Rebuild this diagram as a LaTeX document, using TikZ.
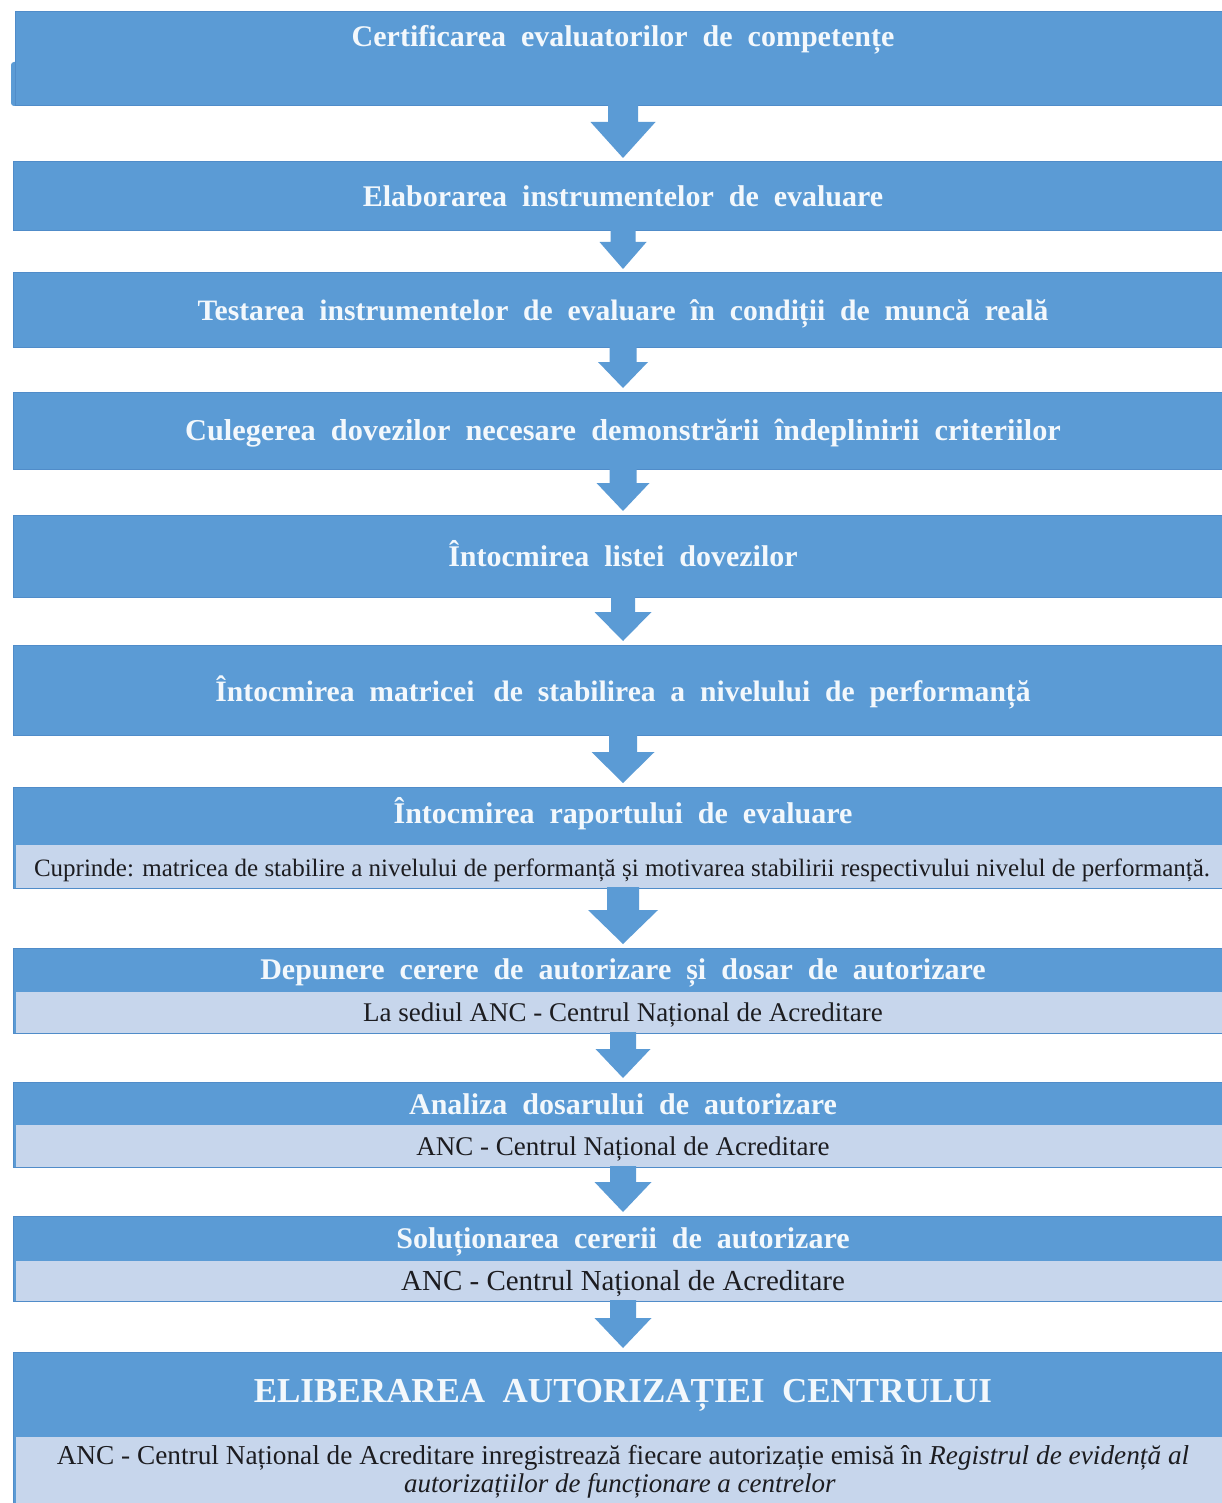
\documentclass[tikz,border=0pt]{standalone}
\usepackage{fontspec}
\setmainfont{Liberation Serif}
\newfontfamily\titlefont{Liberation Serif}[WordSpace=2]
\usetikzlibrary{calc}
\definecolor{boxblue}{RGB}{91,155,213}
\definecolor{boxedge}{RGB}{80,140,201}
\definecolor{lightblue}{RGB}{199,214,236}
\definecolor{titlewhite}{RGB}{243,248,252}
\definecolor{subcol}{RGB}{28,28,32}
\tikzset{
  darkbox/.style={fill=boxblue, draw=boxedge, line width=1pt, inner sep=0pt, outer sep=0pt, anchor=north west, minimum width=1215pt},
  lightbox/.style={fill=lightblue, inner sep=0pt, outer sep=0pt, anchor=north west, minimum width=1212pt},
  titletext/.style={text=titlewhite, font=\titlefont\bfseries\fontsize{30}{32}\selectfont, inner sep=0pt, anchor=base},
  subtext/.style={text=subcol, font=\fontsize{27}{28}\selectfont, inner sep=0pt, anchor=base},
  blockarrow/.style={fill=boxblue},
}
% #1 upper node, #2 lower node, #3 shaft half width, #4 head half width, #5 head length
\newcommand\flowarrow[5]{%
  \fill[blockarrow] let \p1=(#1.south), \p2=(#2.north) in
    ({623pt-#3pt},{\y1+1pt}) -- ({623pt-#3pt},{\y2+4pt+#5pt}) -- ({623pt-#4pt},{\y2+4pt+#5pt})
    -- (623pt,{\y2+4pt}) -- ({623pt+#4pt},{\y2+4pt+#5pt}) -- ({623pt+#3pt},{\y2+4pt+#5pt})
    -- ({623pt+#3pt},{\y1+1pt}) -- cycle;}
\begin{document}
\begin{tikzpicture}[x=1pt,y=-1pt]
\useasboundingbox (0,0) rectangle (1222,1503);
\fill[white] (0,0) rectangle (1222,1503);
\clip (0,0) rectangle (1222,1503);

% Box 1
\fill[boxblue, rounded corners=3pt] (11,62) rectangle (30,106);
\node[darkbox, minimum width=1213pt, minimum height=94pt] (b1) at (15,12) {};
\node[titletext] (t1) at (623,47) {Certificarea evaluatorilor de competențe};

% Box 2
\node[darkbox, minimum height=69pt] (b2) at (13,162) {};
\node[titletext] (t2) at (623,207) {Elaborarea instrumentelor de evaluare};

% Box 3
\node[darkbox, minimum height=74pt] (b3) at (13,273) {};
\node[titletext, font=\titlefont\bfseries\fontsize{29.6}{32}\selectfont] (t3) at (623,320) {Testarea instrumentelor de evaluare în condiții de muncă reală};

% Box 4
\node[darkbox, minimum height=77pt] (b4) at (13,392) {};
\node[titletext, font=\titlefont\bfseries\fontsize{30.3}{32}\selectfont] (t4) at (623,440) {Culegerea dovezilor necesare demonstrării îndeplinirii criteriilor};

% Box 5
\node[darkbox, minimum height=82pt] (b5) at (13,515) {};
\node[titletext] (t5) at (623,566) {Întocmirea listei dovezilor};

% Box 6
\node[darkbox, minimum height=90pt] (b6) at (13,645) {};
\node[titletext, font=\titlefont\bfseries\fontsize{29.6}{32}\selectfont] (t6) at (623,701) {Întocmirea matricei\hspace{4pt} de stabilirea a nivelului de performanță};

% Box 7
\node[darkbox, minimum height=101pt] (b7) at (13,787) {};
\node[lightbox, minimum height=43pt] (l7) at (16,845) {};
\node[titletext] (t7) at (623,823) {Întocmirea raportului de evaluare};
\node[subtext, font=\fontsize{25}{26}\selectfont] (s7) at (622,876) {Cuprinde: matricea de stabilire a nivelului de performanță și motivarea stabilirii respectivului nivelul de performanță.};

% Box 8
\node[darkbox, minimum height=85pt] (b8) at (13,948) {};
\node[lightbox, minimum height=41pt] (l8) at (16,992) {};
\node[titletext] (t8) at (623,979) {Depunere cerere de autorizare și dosar de autorizare};
\node[subtext] (s8) at (623,1021) {La sediul ANC - Centrul Național de Acreditare};

% Box 9
\node[darkbox, minimum height=85pt] (b9) at (13,1082) {};
\node[lightbox, minimum height=42pt] (l9) at (16,1125) {};
\node[titletext] (t9) at (623,1114) {Analiza dosarului de autorizare};
\node[subtext] (s9) at (623,1155) {ANC - Centrul Național de Acreditare};

% Box 10
\node[darkbox, minimum height=85pt] (b10) at (13,1216) {};
\node[lightbox, minimum height=40pt] (l10) at (16,1261) {};
\node[titletext] (t10) at (623,1248) {Soluționarea cererii de autorizare};
\node[subtext, font=\fontsize{29}{30}\selectfont] (s10) at (623,1290) {ANC - Centrul Național de Acreditare};

% Box 11
\node[darkbox, minimum height=160pt] (b11) at (13,1352) {};
\node[lightbox, minimum height=75pt] (l11) at (16,1437) {};
\node[titletext, font=\titlefont\bfseries\fontsize{35}{38}\selectfont] (t11) at (623,1402) {ELIBERAREA AUTORIZAȚIEI CENTRULUI};
\node[subtext, font=\fontsize{27.3}{28}\selectfont] (s11a) at (623,1464) {ANC - Centrul Național de Acreditare inregistrează fiecare autorizație emisă în \textit{Registrul de evidență al}};
\node[subtext] (s11b) at (620,1492) {\textit{autorizațiilor de funcționare a centrelor}};

% Arrows
\flowarrow{b1}{b2}{15}{32.5}{36}
\flowarrow{b2}{b3}{12.5}{23.5}{27}
\flowarrow{b3}{b4}{13.5}{25}{26}
\flowarrow{b4}{b5}{13.5}{26.5}{28}
\flowarrow{b5}{b6}{12}{28.5}{29}
\flowarrow{b6}{b7}{14}{31.5}{31}
\flowarrow{b7}{b8}{16}{35}{34}
\flowarrow{b8}{b9}{13}{27.5}{29}
\flowarrow{b9}{b10}{13}{28.5}{30}
\flowarrow{b10}{b11}{13}{28.5}{30}
\end{tikzpicture}
\end{document}
